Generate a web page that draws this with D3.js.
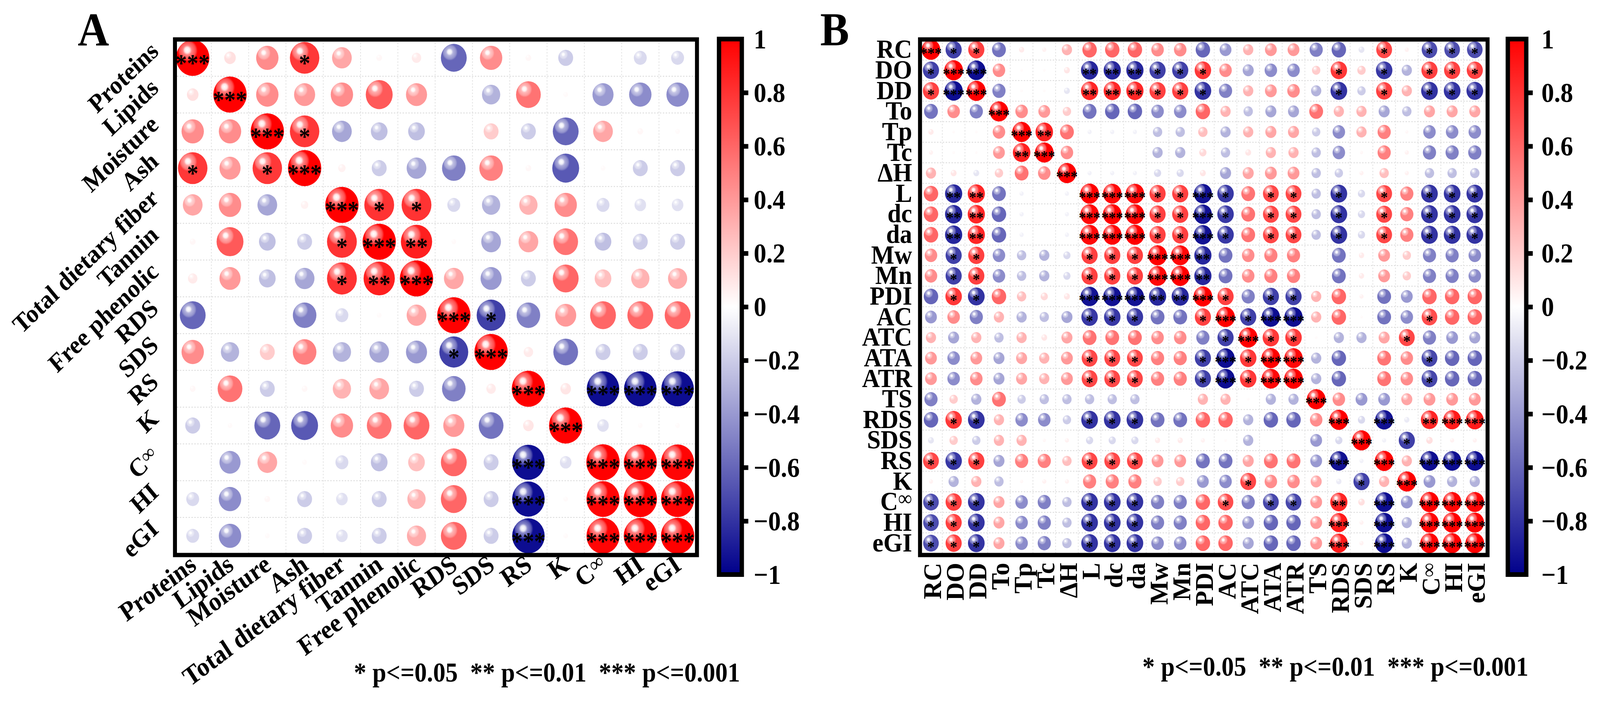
<!DOCTYPE html>
<html>
<head>
<meta charset="utf-8">
<script src="https://cdn.jsdelivr.net/npm/d3@7"></script>
<style>
  html, body { margin: 0; padding: 0; background: #fff; overflow: hidden; }
  #canvas { display: block; width: 100vw; height: 100vh; }
  svg text { font-family: "Liberation Serif", "Times New Roman", serif; font-weight: bold; fill: #000; }
</style>
</head>
<body>
<svg id="canvas" viewBox="0 0 4426 1805" preserveAspectRatio="none"></svg>
<script>
// ---- Data (upper triangle rows, starting at the diagonal) ----
const varsA = ["Proteins", "Lipids", "Moisture", "Ash", "Total dietary fiber", "Tannin",
  "Free phenolic", "RDS", "SDS", "RS", "K", "C\u221E", "HI", "eGI"];

const corrA = [
  [1, 0.12, 0.45, 0.78, 0.35, 0.03, 0.08, -0.6, 0.45, 0.03, -0.2, 0, -0.15, -0.15],
  [1, 0.45, 0.4, 0.45, 0.65, 0.4, 0, -0.3, 0.55, 0.02, -0.4, -0.45, -0.45],
  [1, 0.78, -0.35, -0.25, -0.25, 0, 0.2, -0.2, -0.6, 0.35, 0.03, 0.02],
  [1, 0.05, -0.2, -0.35, -0.5, 0.5, 0.03, -0.65, 0.02, -0.2, -0.2],
  [1, 0.8, 0.8, -0.15, -0.3, 0.3, 0.45, -0.15, -0.12, -0.12],
  [1, 0.88, 0.02, -0.35, 0.35, 0.55, -0.25, -0.2, -0.2],
  [1, 0.35, -0.4, -0.2, 0.6, 0.25, 0.3, 0.33],
  [1, -0.75, -0.5, 0.4, 0.6, 0.6, 0.6],
  [1, 0.08, -0.55, -0.2, -0.2, -0.2],
  [1, 0.1, -0.95, -0.95, -0.95],
  [1, -0.12, 0.02, 0.02],
  [1, 0.98, 0.98],
  [1, 0.99],
  [1]
];

// significance level: 1 = p<=0.05, 2 = p<=0.01, 3 = p<=0.001
const starsA = [
  [3, 0, 0, 1, 0, 0, 0, 0, 0, 0, 0, 0, 0, 0],
  [3, 0, 0, 0, 0, 0, 0, 0, 0, 0, 0, 0, 0],
  [3, 1, 0, 0, 0, 0, 0, 0, 0, 0, 0, 0],
  [3, 0, 0, 0, 0, 0, 0, 0, 0, 0, 0],
  [3, 1, 1, 0, 0, 0, 0, 0, 0, 0],
  [3, 2, 0, 0, 0, 0, 0, 0, 0],
  [3, 0, 0, 0, 0, 0, 0, 0],
  [3, 1, 0, 0, 0, 0, 0],
  [3, 0, 0, 0, 0, 0],
  [3, 0, 3, 3, 3],
  [3, 0, 0, 0],
  [3, 3, 3],
  [3, 3],
  [3]
];

const varsB = ["RC", "DO", "DD", "To", "Tp", "Tc", "\u0394H", "L", "dc", "da", "Mw", "Mn", "PDI",
  "AC", "ATC", "ATA", "ATR", "TS", "RDS", "SDS", "RS", "K", "C\u221E", "HI", "eGI"];

const corrB = [
  [1, -0.75, 0.75, -0.55, 0.08, 0.05, 0.3, 0.6, 0.6, 0.6, 0.45, 0.45, -0.6, -0.4, 0.3, 0.4, 0.4, -0.5, -0.6, -0.1, 0.72, 0.05, -0.7, -0.7, -0.7],
  [1, -0.95, 0.45, 0.02, 0.02, 0.1, -0.85, -0.85, -0.85, -0.75, -0.75, 0.78, 0.45, -0.35, -0.45, -0.45, 0.2, 0.78, 0.2, -0.78, -0.3, 0.75, 0.75, 0.75],
  [1, -0.5, 0.02, 0.02, -0.1, 0.85, 0.85, 0.85, 0.75, 0.75, -0.8, -0.5, 0.3, 0.4, 0.45, -0.3, -0.8, -0.2, 0.75, 0.3, -0.8, -0.8, -0.8],
  [1, 0.45, 0.4, 0.2, -0.55, -0.6, -0.6, -0.45, -0.45, 0.6, 0.3, -0.25, -0.35, -0.35, 0.55, 0.3, 0.3, -0.35, -0.25, 0.35, 0.35, 0.35],
  [1, 0.88, 0.55, -0.05, -0.05, -0.05, -0.25, -0.25, 0.25, -0.3, 0.3, 0.35, 0.35, -0.2, -0.45, 0.3, 0.5, 0.03, -0.45, -0.45, -0.45],
  [1, 0.45, 0, 0, 0, -0.3, -0.3, 0.15, -0.25, 0.1, 0.3, 0.3, -0.25, -0.45, 0.03, 0.5, 0.05, -0.5, -0.5, -0.5],
  [1, -0.05, -0.05, -0.05, -0.15, -0.15, 0.1, -0.35, 0.35, 0.4, 0.4, -0.25, -0.2, 0.05, 0.25, 0.05, -0.25, -0.25, -0.25],
  [1, 0.97, 0.97, 0.75, 0.75, -0.93, -0.78, 0.55, 0.72, 0.72, -0.25, -0.8, -0.15, 0.72, 0.5, -0.8, -0.8, -0.8],
  [1, 0.98, 0.75, 0.75, -0.93, -0.78, 0.55, 0.72, 0.72, -0.25, -0.8, -0.15, 0.72, 0.5, -0.8, -0.8, -0.8],
  [1, 0.75, 0.75, -0.93, -0.78, 0.55, 0.72, 0.72, -0.25, -0.8, -0.15, 0.72, 0.5, -0.8, -0.8, -0.8],
  [1, 0.97, -0.85, -0.55, 0.45, 0.5, 0.5, 0, -0.55, 0.08, 0.4, 0.2, -0.5, -0.5, -0.45],
  [1, -0.85, -0.55, 0.45, 0.5, 0.5, 0, -0.55, 0.08, 0.4, 0.2, -0.5, -0.5, -0.45],
  [1, 0.75, -0.5, -0.75, -0.75, 0.3, 0.6, 0.05, -0.55, -0.4, 0.6, 0.6, 0.6],
  [1, -0.75, -0.95, -0.95, 0.3, 0.6, 0.02, -0.55, -0.45, 0.7, 0.6, 0.6],
  [1, 0.78, 0.78, 0.02, -0.3, -0.3, 0.35, 0.72, -0.5, -0.4, -0.35],
  [1, 0.97, -0.3, -0.6, 0, 0.55, 0.45, -0.72, -0.6, -0.6],
  [1, -0.3, -0.6, 0, 0.55, 0.45, -0.72, -0.6, -0.6],
  [1, 0.45, -0.4, -0.4, 0.35, 0.4, 0.4, 0.4],
  [1, -0.15, -0.93, -0.08, 0.85, 0.9, 0.9],
  [1, -0.05, -0.75, 0.12, 0.05, 0.05],
  [1, 0.3, -0.95, -0.95, -0.95],
  [1, -0.4, -0.3, -0.3],
  [1, 0.98, 0.98],
  [1, 0.99],
  [1]
];

const starsB = [
  [3, 1, 1, 0, 0, 0, 0, 0, 0, 0, 0, 0, 0, 0, 0, 0, 0, 0, 0, 0, 1, 0, 1, 1, 1],
  [3, 3, 0, 0, 0, 0, 2, 2, 2, 1, 1, 1, 0, 0, 0, 0, 0, 1, 0, 1, 0, 1, 1, 1],
  [3, 0, 0, 0, 0, 2, 2, 2, 1, 1, 1, 0, 0, 0, 0, 0, 1, 0, 1, 0, 1, 1, 1],
  [3, 0, 0, 0, 0, 0, 0, 0, 0, 0, 0, 0, 0, 0, 0, 0, 0, 0, 0, 0, 0, 0],
  [3, 2, 0, 0, 0, 0, 0, 0, 0, 0, 0, 0, 0, 0, 0, 0, 0, 0, 0, 0, 0],
  [3, 0, 0, 0, 0, 0, 0, 0, 0, 0, 0, 0, 0, 0, 0, 0, 0, 0, 0, 0],
  [3, 0, 0, 0, 0, 0, 0, 0, 0, 0, 0, 0, 0, 0, 0, 0, 0, 0, 0],
  [3, 3, 3, 1, 1, 3, 1, 0, 1, 1, 0, 1, 0, 1, 0, 1, 1, 1],
  [3, 3, 1, 1, 3, 1, 0, 1, 1, 0, 1, 0, 1, 0, 1, 1, 1],
  [3, 1, 1, 3, 1, 0, 1, 1, 0, 1, 0, 1, 0, 1, 1, 1],
  [3, 3, 2, 0, 0, 0, 0, 0, 0, 0, 0, 0, 0, 0, 0],
  [3, 2, 0, 0, 0, 0, 0, 0, 0, 0, 0, 0, 0, 0],
  [3, 1, 0, 1, 1, 0, 0, 0, 0, 0, 0, 0, 0],
  [3, 1, 3, 3, 0, 0, 0, 0, 0, 1, 0, 0],
  [3, 1, 1, 0, 0, 0, 0, 1, 0, 0, 0],
  [3, 3, 0, 0, 0, 0, 0, 1, 0, 0],
  [3, 0, 0, 0, 0, 0, 1, 0, 0],
  [3, 0, 0, 0, 0, 0, 0, 0],
  [3, 0, 3, 0, 2, 3, 3],
  [3, 0, 1, 0, 0, 0],
  [3, 0, 3, 3, 3],
  [3, 0, 0, 0],
  [3, 3, 3],
  [3, 3],
  [3]
];

const colorbarTicks = [1, 0.8, 0.6, 0.4, 0.2, 0, -0.2, -0.4, -0.6, -0.8, -1];
const legendText = "* p<=0.05  ** p<=0.01  *** p<=0.001";

// ---- Setup ----
const svg = d3.select("#canvas");
const color = d3.scaleLinear().domain([-1, 0, 1]).range(["#00008b", "#ffffff", "#ff0000"]);
const defs = svg.append("defs");

// glossy highlight laid over every bubble
const gloss = defs.append("radialGradient").attr("id", "gloss")
  .attr("cx", 0.35).attr("cy", 0.3).attr("r", 0.3).attr("fx", 0.33).attr("fy", 0.28);
[[0, 1], [0.25, 0.9], [0.45, 0.5], [0.8, 0.3], [1, 0]].forEach(([o, a]) =>
  gloss.append("stop").attr("offset", o).attr("stop-color", "#fff").attr("stop-opacity", a));

// colorbar gradient, bottom (-1) to top (1)
const cbGrad = defs.append("linearGradient").attr("id", "cbgrad")
  .attr("x1", 0).attr("y1", 1).attr("x2", 0).attr("y2", 0);
d3.range(-1, 1.0001, 0.1).forEach(v =>
  cbGrad.append("stop").attr("offset", (v + 1) / 2).attr("stop-color", color(v)));

// mirror an upper-triangle list into a full matrix
function fullMatrix(tri) {
  const n = tri.length;
  const m = d3.range(n).map(() => new Array(n).fill(0));
  tri.forEach((row, i) => row.forEach((v, k) => { m[i][i + k] = v; m[i + k][i] = v; }));
  return m;
}

// variable names; the infinity sign is drawn thin and a little raised
function labelText(sel) {
  sel.each(function (v) {
    const t = d3.select(this);
    if (v.endsWith("\u221E")) {
      t.append("tspan").text(v.slice(0, -1));
      t.append("tspan").attr("font-weight", "normal").attr("font-size", "0.8em").attr("dy", "-0.22em").text("\u221E");
    } else {
      t.text(v);
    }
  });
}

function drawPanel(p) {
  const n = p.vars.length;
  const x = d3.scaleBand().domain(p.vars).range([p.left, p.right]);
  const y = d3.scaleBand().domain(p.vars).range([p.top, p.bottom]);
  const rMax = Math.min(x.bandwidth(), y.bandwidth()) / 2 * 0.98;
  const size = d3.scaleSqrt().domain([0, 1]).range([0, rMax]);
  const r = fullMatrix(p.corr), s = fullMatrix(p.stars);

  const cells = [];
  p.vars.forEach((rv, i) => p.vars.forEach((cv, j) =>
    cells.push({ row: rv, col: cv, v: r[i][j], st: s[i][j] })));

  const g = svg.append("g");

  // dotted grid
  g.selectAll(".hgrid").data(d3.range(1, n)).enter().append("line")
    .attr("x1", p.left).attr("x2", p.right)
    .attr("y1", k => p.top + k * y.step()).attr("y2", k => p.top + k * y.step())
    .attr("stroke", "#d8d8d8").attr("stroke-width", 2).attr("stroke-dasharray", "4,4");
  g.selectAll(".vgrid").data(d3.range(1, n)).enter().append("line")
    .attr("y1", p.top).attr("y2", p.bottom)
    .attr("x1", k => p.left + k * x.step()).attr("x2", k => p.left + k * x.step())
    .attr("stroke", "#e2e2e2").attr("stroke-width", 2).attr("stroke-dasharray", "4,4");

  const cx = d => x(d.col) + x.bandwidth() / 2;
  const cy = d => y(d.row) + y.bandwidth() / 2;

  g.selectAll(".bubble").data(cells).enter().append("circle")
    .attr("cx", cx).attr("cy", cy).attr("r", d => size(Math.abs(d.v)))
    .attr("fill", d => color(d.v));
  g.selectAll(".shine").data(cells.filter(d => d.v !== 0)).enter().append("circle")
    .attr("cx", cx).attr("cy", cy).attr("r", d => size(Math.abs(d.v)))
    .attr("fill", "url(#gloss)");

  g.selectAll(".star").data(cells.filter(d => d.st > 0)).enter().append("text")
    .attr("x", cx).attr("y", d => cy(d) + p.starSize * 0.55)
    .attr("text-anchor", "middle").attr("font-size", p.starSize)
    .text(d => "*".repeat(d.st));

  // frame
  const f = p.frame;
  g.append("rect")
    .attr("x", f[0]).attr("y", f[1]).attr("width", f[2] - f[0]).attr("height", f[3] - f[1])
    .attr("fill", "none").attr("stroke", "#000").attr("stroke-width", 11);

  // row labels
  g.selectAll(".ylab").data(p.vars).enter().append("text")
    .attr("text-anchor", "end").attr("font-size", p.labelSize)
    .attr("transform", v => p.yLabelPos(y(v) + y.bandwidth() / 2))
    .call(labelText);
  // column labels
  g.selectAll(".xlab").data(p.vars).enter().append("text")
    .attr("text-anchor", "end").attr("font-size", p.xLabelSize || p.labelSize)
    .attr("transform", v => p.xLabelPos(x(v) + x.bandwidth() / 2))
    .call(labelText);

  // title letter
  svg.append("text").attr("x", p.titleX).attr("y", 116).attr("font-size", 120).text(p.title);

  // legend
  svg.append("text").attr("x", p.legendX).attr("y", p.legendY)
    .attr("font-size", 70).attr("textLength", 1068).attr("lengthAdjust", "spacingAndGlyphs")
    .attr("xml:space", "preserve").style("white-space", "pre")
    .text(legendText);

  drawColorbar(p.cb);
}

function drawColorbar(c) {
  const cbY = d3.scaleLinear().domain([-1, 1]).range([1471, 100]);
  const g = svg.append("g");
  g.append("rect").attr("x", c.x).attr("y", cbY(1)).attr("width", c.w).attr("height", cbY(-1) - cbY(1))
    .attr("fill", "url(#cbgrad)").attr("stroke", "#000").attr("stroke-width", 12);
  const axis = d3.axisRight(cbY).tickValues(colorbarTicks).tickSize(0).tickPadding(0)
    .tickFormat(d3.format("~g"));
  const ax = g.append("g").attr("transform", `translate(${c.x + c.w + 6},0)`).call(axis);
  ax.select(".domain").remove();
  ax.selectAll(".tick line").attr("x1", -4).attr("x2", 12).attr("stroke", "#000").attr("stroke-width", 12)
    .filter(d => Math.abs(d) === 1).remove();
  ax.selectAll(".tick text").attr("x", c.labelX - (c.x + c.w + 6)).attr("dy", null).attr("dominant-baseline", "central")
    .attr("font-size", 70).attr("font-family", null).attr("fill", "#000");
  ax.attr("font-family", null).attr("font-size", null);
}

drawPanel({
  title: "A", titleX: 215,
  vars: varsA, corr: corrA, stars: starsA,
  left: 481.5, right: 1926, top: 101, bottom: 1419,
  frame: [484, 101, 1928, 1421],
  starSize: 63, labelSize: 66, xLabelSize: 68,
  yLabelPos: yc => `translate(442,${yc - 12}) rotate(-42)`,
  xLabelPos: xc => `translate(${xc + 14},1455) rotate(-35)`,
  legendX: 979, legendY: 1745,
  cb: { x: 1989, w: 63, labelX: 2085 }
});

drawPanel({
  title: "B", titleX: 2269,
  vars: varsB, corr: corrB, stars: starsB,
  left: 2544, right: 4111, top: 101, bottom: 1417,
  frame: [2545, 101, 4115, 1421],
  starSize: 40, labelSize: 68, xLabelSize: 70,
  yLabelPos: yc => `translate(2523,${yc + 21})`,
  xLabelPos: xc => `translate(${xc + 28},1441) rotate(-90) scale(0.92,1)`,
  legendX: 3160, legendY: 1730,
  cb: { x: 4171, w: 51, labelX: 4264 }
});
</script>
</body>
</html>
